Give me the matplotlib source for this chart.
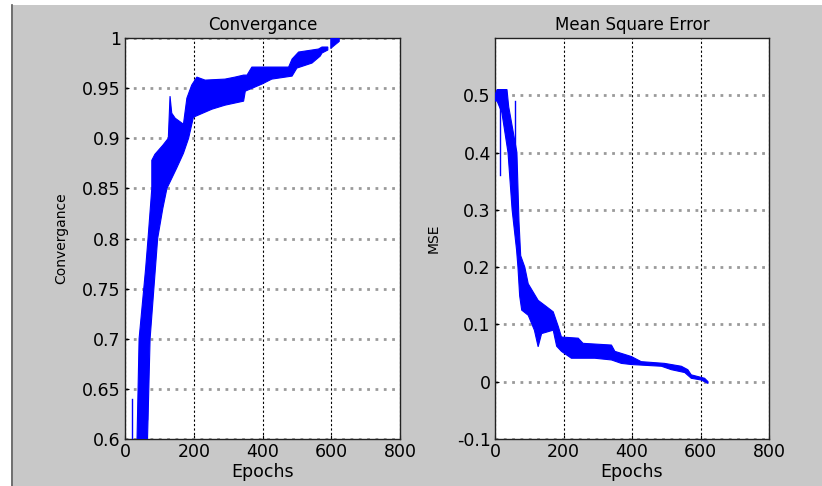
import numpy as np
import matplotlib.pyplot as plt
from matplotlib.patches import Rectangle
from matplotlib.lines import Line2D

# Convergence band: upper and lower edges (epoch, value)
conv_up_x = [35, 41, 60, 67, 78, 78, 87, 110, 126, 131, 136, 146, 170, 180, 194, 209,
             233, 291, 320, 345, 355, 369, 418, 476, 486, 505, 563, 573, 590]
conv_up_y = [0.60, 0.70, 0.77, 0.80, 0.85, 0.878, 0.884, 0.893, 0.90, 0.942, 0.925, 0.92,
             0.914, 0.94, 0.953, 0.961, 0.958, 0.959, 0.961, 0.963, 0.963, 0.971, 0.971,
             0.971, 0.979, 0.986, 0.989, 0.991, 0.991]
conv_lo_x = [35, 64, 73, 95, 110, 122, 150, 170, 185, 199, 253, 291, 345, 350, 398, 427,
             486, 500, 544, 568, 573, 590]
conv_lo_y = [0.58, 0.58, 0.70, 0.80, 0.83, 0.85, 0.87, 0.885, 0.90, 0.921, 0.929, 0.933,
             0.937, 0.947, 0.954, 0.959, 0.962, 0.97, 0.975, 0.982, 0.985, 0.988]
# last short piece near 1.0
conv_end_x = [597, 622]
conv_end_lo = [0.99, 0.997]
conv_end_hi = [1.0, 1.01]
# thin spikes (epoch, from, to)
conv_spikes = [(19, 0.58, 0.64), (53, 0.60, 0.733), (64, 0.62, 0.66)]

# MSE band
mse_up_x = [0, 6, 35, 40, 52, 64, 70, 75, 87, 97, 126, 146, 170, 185, 194, 243, 257, 340,
            350, 398, 427, 495, 544, 563, 573, 612, 622]
mse_up_y = [0.50, 0.51, 0.51, 0.48, 0.44, 0.40, 0.28, 0.22, 0.20, 0.171, 0.142, 0.133,
            0.122, 0.096, 0.078, 0.076, 0.067, 0.064, 0.053, 0.044, 0.035, 0.032, 0.027,
            0.021, 0.012, 0.006, 0.0]
mse_lo_x = [0, 6, 20, 38, 50, 63, 67, 72, 78, 97, 115, 126, 136, 170, 180, 194, 223, 291,
            340, 369, 398, 486, 515, 554, 573, 602, 622]
mse_lo_y = [0.49, 0.49, 0.47, 0.40, 0.30, 0.23, 0.20, 0.15, 0.125, 0.116, 0.09, 0.061,
            0.084, 0.09, 0.062, 0.053, 0.041, 0.041, 0.038, 0.032, 0.030, 0.027, 0.021,
            0.016, 0.006, 0.003, -0.003]
mse_spikes = [(15, 0.49, 0.36), (58, 0.49, 0.30)]

blue = '#0000ff'
plt.rcParams['font.family'] = 'DejaVu Sans'

fig = plt.figure(figsize=(8.22, 4.86), dpi=100, facecolor='white')
fig.patches.append(Rectangle((13 / 822, 0), 1, 1 - 5 / 486, transform=fig.transFigure,
                             facecolor='#c8c8c8', edgecolor='none', zorder=-10))
fig.lines.append(Line2D([12 / 822, 12 / 822], [0, 1 - 5 / 486], transform=fig.transFigure,
                        color='#555555', lw=1.2))

ax1 = fig.add_axes([125 / 822, 1 - 439 / 486, 275 / 822, 401 / 486])
ax2 = fig.add_axes([495 / 822, 1 - 439 / 486, 274 / 822, 401 / 486])


def band(ax, ux, uy, lx, ly, spikes):
    xs = np.concatenate([ux, lx[::-1]])
    ys = np.concatenate([uy, ly[::-1]])
    ax.fill(xs, ys, color=blue, lw=0.8, zorder=3)
    for x, a, b in spikes:
        ax.plot([x, x], [a, b], color=blue, lw=1.0, zorder=3)


band(ax1, conv_up_x, conv_up_y, conv_lo_x, conv_lo_y, conv_spikes)
ax1.fill_between(conv_end_x, conv_end_lo, conv_end_hi, color=blue, lw=0.6, zorder=3)
band(ax2, mse_up_x, mse_up_y, mse_lo_x, mse_lo_y, mse_spikes)

ax1.set_xlim(0, 800)
ax1.set_ylim(0.6, 1.0)
ax1.set_yticks([0.6, 0.65, 0.7, 0.75, 0.8, 0.85, 0.9, 0.95, 1.0])
ax1.set_yticklabels(['0.6', '0.65', '0.7', '0.75', '0.8', '0.85', '0.9', '0.95', '1'])
ax1.set_title('Convergance', fontsize=12, pad=6)
ax1.set_ylabel('Convergance', fontsize=10, labelpad=10)

ax2.set_xlim(0, 800)
ax2.set_ylim(-0.1, 0.6)
ax2.set_yticks([-0.1, 0, 0.1, 0.2, 0.3, 0.4, 0.5])
ax2.set_yticklabels(['-0.1', '0', '0.1', '0.2', '0.3', '0.4', '0.5'])
ax2.set_title('Mean Square Error', fontsize=12, pad=6)
ax2.set_ylabel('MSE', fontsize=10, labelpad=12)

for ax in (ax1, ax2):
    ax.set_facecolor('white')
    ax.set_xticks([0, 200, 400, 600, 800])
    ax.set_xlabel('Epochs', fontsize=12.5, labelpad=1)
    ax.tick_params(direction='in', length=3, labelsize=12.5, pad=3, color='k')
    ax.xaxis.grid(True, color='k', ls=(0, (2, 2)), lw=0.8)
    ax.yaxis.grid(True, color='#9a9a9a', ls=(0, (1, 2)), lw=2.0)
    ax.set_axisbelow(True)
    for s in ax.spines.values():
        s.set_color('#222222')
        s.set_linewidth(1.0)

fig.savefig('out.png', dpi=100, facecolor=fig.get_facecolor())
